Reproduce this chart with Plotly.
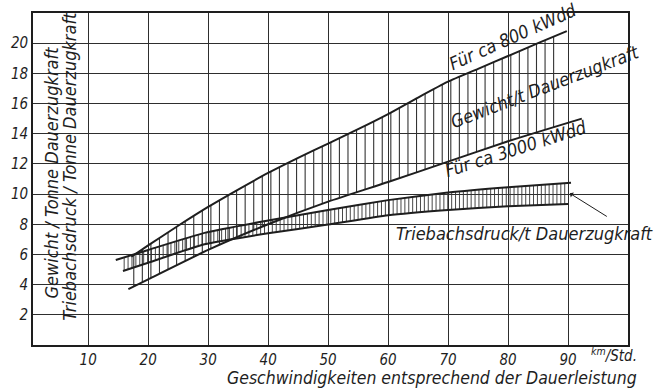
import numpy as np
import plotly.graph_objects as go

# Geschwindigkeit in km/Std. und zugehörige Werte je Kurve
v_800 = [17.2, 20, 25, 30, 35, 40, 45, 50, 55, 60, 65, 70, 75, 80, 85, 89.8]
g_800 = [5.85, 6.6, 7.9, 9.15, 10.3, 11.4, 12.4, 13.35, 14.3, 15.3, 16.4, 17.45, 18.3, 19.15, 20.0, 20.8]

v_3000 = [16.7, 20, 30, 40, 50, 60, 70, 80, 92.3]
g_3000 = [3.7, 4.35, 6.3, 8.0, 9.5, 10.8, 12.15, 13.5, 15.0]

v_tr_oben = [14.6, 20, 29.4, 40, 50, 60, 70, 80, 90.5]
tr_oben = [5.63, 6.3, 7.43, 8.25, 8.95, 9.6, 10.1, 10.45, 10.75]

v_tr_unten = [15.8, 20, 29.4, 40, 50, 60, 70, 80, 90]
tr_unten = [4.9, 5.45, 6.67, 7.4, 7.98, 8.6, 8.95, 9.2, 9.35]

x_ticks = [10, 20, 30, 40, 50, 60, 70, 80, 90]
y_ticks = [2, 4, 6, 8, 10, 12, 14, 16, 18, 20]

X_RANGE = [0.8, 100]
Y_RANGE = [0, 22]

FONT = "Liberation Sans Narrow, DejaVu Sans Condensed, Liberation Sans, sans-serif"
INK = "#1e1e1e"
HATCH = "#333333"
GRID = "#2e2e2e"


def schraffur(xs, lo_x, lo_y, hi_x, hi_y):
    """Senkrechte Schraffurstriche zwischen zwei Kurven."""
    xx, yy = [], []
    for x in xs:
        xx += [x, x, None]
        yy += [float(np.interp(x, lo_x, lo_y)), float(np.interp(x, hi_x, hi_y)), None]
    return xx, yy


fig = go.Figure()

# Schraffur: Gewicht/t Dauerzugkraft (zwischen 3000 kW und 800 kW)
hx, hy = schraffur(np.arange(17.6, 89.0, 10 / 7), v_3000, g_3000, v_800, g_800)
fig.add_trace(go.Scatter(x=hx, y=hy, mode="lines", line=dict(color=HATCH, width=1.1),
                         hoverinfo="skip", showlegend=False))

# Schraffur: Triebachsdruck-Band
bx, by = schraffur(np.arange(16.0, 90.0, 0.65), v_tr_unten, tr_unten, v_tr_oben, tr_oben)
fig.add_trace(go.Scatter(x=bx, y=by, mode="lines", line=dict(color=HATCH, width=0.9),
                         hoverinfo="skip", showlegend=False))

for xs, ys in [(v_800, g_800), (v_3000, g_3000), (v_tr_oben, tr_oben), (v_tr_unten, tr_unten)]:
    fig.add_trace(go.Scatter(x=xs, y=ys, mode="lines",
                             line=dict(color=INK, width=2, shape="spline", smoothing=0.5),
                             hoverinfo="skip", showlegend=False))

ann = []


def txt(x, y, s, angle=0, size=18, yref="y", **kw):
    ann.append(dict(x=x, y=y, xref="x", yref=yref, text=f"<i>{s}</i>", showarrow=False,
                    textangle=angle, xanchor="center", yanchor="middle",
                    font=dict(family=FONT, size=size, color=INK), **kw))


txt(80.8, 20.45, "Für ca 800 kWdd", angle=-24)
txt(86.2, 17.1, "Gewicht/t Dauerzugkraft", angle=-21)
txt(81.4, 13.0, "Für ca 3000 kWdd", angle=-17.7)
txt(82.8, 7.42, "Triebachsdruck/t Dauerzugkraft")
txt(3.9, 11.4, "Gewicht / Tonne Dauerzugkraft", angle=-90, size=18)
txt(6.9, 11.85, "Triebachsdruck / Tonne Dauerzugkraft", angle=-90, size=18)
txt(67.4, -0.1, "Geschwindigkeiten entsprechend der Dauerleistung", yref="paper", size=17.5)
txt(97.6, -0.03, "<sup>km</sup>/Std.", size=15, yref="paper")

# Hinweispfeil auf das Triebachsdruck-Band
ann.append(dict(x=90.3, y=10.05, xref="x", yref="y", text=" ", showarrow=True,
                ax=40, ay=25, arrowhead=1, arrowsize=1, arrowwidth=1, arrowcolor=INK))

axis_common = dict(showgrid=True, gridcolor=GRID, gridwidth=1.3, zeroline=False,
                   showline=True, linecolor=INK, linewidth=1.6, mirror=True,
                   ticks="", tickfont=dict(family=FONT, size=15, color=INK))

fig.update_layout(
    width=656, height=389,
    margin=dict(l=26, r=28, t=11, b=44),
    paper_bgcolor="white", plot_bgcolor="white",
    xaxis=dict(range=X_RANGE, tickvals=x_ticks,
               ticktext=[f"<i>{t}</i>" for t in x_ticks], **axis_common),
    yaxis=dict(range=Y_RANGE, tickvals=y_ticks,
               ticktext=[f"<i>{t}</i>" for t in y_ticks], **axis_common),
    annotations=ann,
    showlegend=False,
)

fig.write_html("out.html")
